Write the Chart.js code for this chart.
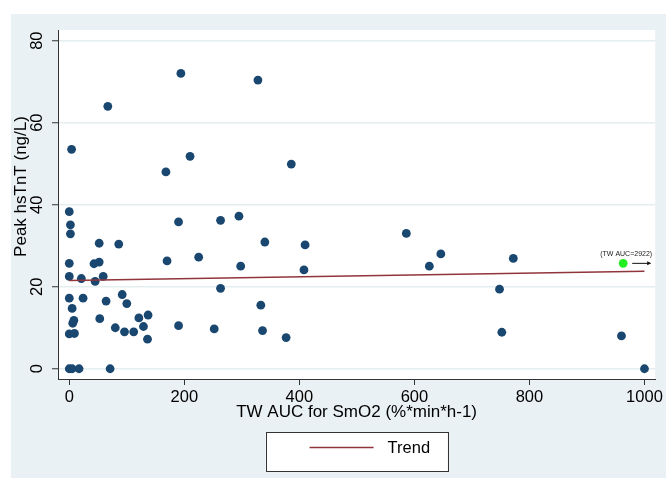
<!DOCTYPE html>
<html><head><meta charset="utf-8">
<script src="https://cdn.jsdelivr.net/npm/chart.js@4.4.1/dist/chart.umd.min.js"></script>
<style>html,body{margin:0;padding:0;background:#fff;}canvas{display:block;}</style>
</head><body>
<canvas id="c" width="666" height="478"></canvas>
<script>
// TW AUC for SmO2 (x) and Peak hsTnT (y)
const aucValues = [194,328,67,4,210,168,386,0,2,2,52,86,190,263,295,340,410,586,0,43,52,170,225,298,408,626,646,772,0,21,45,59,263,748,0,24,5,64,92,100,333,8,6,53,121,137,0,9,80,129,96,112,136,190,252,336,377,752,960,0,5,17,71,1000];
const hstntValues = [72.0,70.4,64.0,53.5,51.8,48.0,49.9,38.3,35.1,32.9,30.6,30.4,35.8,36.2,37.2,30.9,30.2,33.0,25.7,25.6,26.0,26.3,27.2,25.0,24.1,25.0,28.0,26.9,22.5,22.0,21.3,22.5,19.6,19.4,17.2,17.2,14.7,16.5,18.1,15.9,15.5,11.8,11.1,12.2,12.4,13.1,8.5,8.6,10.0,10.3,9.0,9.0,7.2,10.5,9.7,9.3,7.6,8.9,8.0,0,0,0,0,0];
const outlierAuc = [963];
const outlierHstnt = [25.7];
const outlierLabels = ['(TW AUC=2922)'];
const trendAuc = [0, 1000];
const trendHstnt = [21.5, 23.8];
const xTickValues = [0, 200, 400, 600, 800, 1000];
const yTickValues = [0, 20, 40, 60, 80];
const xTitle = 'TW AUC for SmO2 (%*min*h-1)';
const yTitle = 'Peak hsTnT (ng/L)';
const trendLabel = 'Trend';

const BG = '#eaf1f4';
const NAVY = '#1a476f';
const MAROON = '#90353b';
const FONT = '"Liberation Sans", Arial, Helvetica, sans-serif';

const bgPlugin = {
  id: 'bg',
  beforeDraw(chart) {
    const ctx = chart.ctx, a = chart.chartArea;
    ctx.save();
    ctx.fillStyle = '#fff';
    ctx.fillRect(0, 0, chart.width, chart.height);
    ctx.fillStyle = BG;
    ctx.fillRect(11, 14, chart.width - 11, chart.height - 14);
    ctx.fillStyle = '#fff';
    ctx.fillRect(a.left, a.top, a.right - a.left, a.bottom - a.top);
    ctx.restore();
  }
};

const extrasPlugin = {
  id: 'extras',
  afterDraw(chart) {
    const ctx = chart.ctx, a = chart.chartArea;
    const xs = chart.scales.x, ys = chart.scales.y;
    ctx.save();
    // outlier annotation
    outlierAuc.forEach((v, i) => {
      const px = xs.getPixelForValue(v), py = ys.getPixelForValue(outlierHstnt[i]);
      ctx.fillStyle = '#222';
      ctx.font = '7px ' + FONT;
      ctx.textAlign = 'center';
      ctx.textBaseline = 'middle';
      ctx.fillText(outlierLabels[i], px + 3, py - 9);
      ctx.strokeStyle = '#111';
      ctx.lineWidth = 1;
      ctx.beginPath();
      ctx.moveTo(px + 9, py);
      ctx.lineTo(px + 27, py);
      ctx.stroke();
      ctx.fillStyle = '#111';
      ctx.beginPath();
      ctx.moveTo(px + 28, py);
      ctx.lineTo(px + 24, py - 2);
      ctx.lineTo(px + 24, py + 2);
      ctx.closePath();
      ctx.fill();
    });
    // y axis title
    ctx.save();
    ctx.translate(21, (a.top + a.bottom) / 2 - 18);
    ctx.rotate(-Math.PI / 2);
    ctx.fillStyle = '#000';
    ctx.font = '17px ' + FONT;
    ctx.textAlign = 'center';
    ctx.textBaseline = 'middle';
    ctx.fillText(yTitle, 0, 0);
    ctx.restore();
    // legend
    const cx = (a.left + a.right) / 2;
    const bw = 182, bh = 39;
    const bx = cx - bw / 2, by = 432.5;
    ctx.fillStyle = '#fff';
    ctx.fillRect(bx, by, bw, bh);
    ctx.strokeStyle = '#333';
    ctx.lineWidth = 1;
    ctx.strokeRect(Math.round(bx) + 0.5, by, bw, bh);
    const ds = chart.data.datasets[0];
    ctx.strokeStyle = ds.borderColor;
    ctx.lineWidth = 1.5;
    ctx.beginPath();
    ctx.moveTo(bx + 44, by + 15);
    ctx.lineTo(bx + 108, by + 15);
    ctx.stroke();
    ctx.fillStyle = '#000';
    ctx.font = '16.5px ' + FONT;
    ctx.textAlign = 'left';
    ctx.textBaseline = 'middle';
    ctx.fillText(ds.label, bx + 122, by + 16);
    ctx.restore();
  }
};

const mainData = aucValues.map((x, i) => ({x, y: hstntValues[i]}));
const outData = outlierAuc.map((x, i) => ({x, y: outlierHstnt[i]}));
const trendData = trendAuc.map((x, i) => ({x, y: trendHstnt[i]}));

new Chart(document.getElementById('c'), {
  type: 'scatter',
  data: {
    datasets: [
      {type: 'line', label: trendLabel, data: trendData, borderColor: MAROON, borderWidth: 1.5, pointRadius: 0, fill: false, tension: 0},
      {label: 'Outlier', data: outData, backgroundColor: '#22ee22', borderWidth: 0, pointRadius: 4.4},
      {label: 'Peak hsTnT', data: mainData, backgroundColor: NAVY, borderColor: NAVY, borderWidth: 0, pointRadius: 4.4}
    ]
  },
  options: {
    responsive: false,
    animation: false,
    devicePixelRatio: 1,
    layout: {padding: {left: 18, top: 30, right: 10, bottom: 55}},
    plugins: {legend: {display: false}, tooltip: {enabled: false}},
    scales: {
      x: {
        type: 'linear', min: -19.6, max: 1018.6,
        afterBuildTicks(s) { s.ticks = xTickValues.map(v => ({value: v})); },
        afterFit(s) { s.height = 44; },
        grid: {drawOnChartArea: false, drawTicks: true, tickLength: 6, tickColor: '#333', tickWidth: 1},
        border: {display: true, color: '#333', width: 1},
        ticks: {color: '#000', font: {family: FONT, size: 16.5}, padding: 3, maxRotation: 0, autoSkip: false, callback: v => String(v)},
        title: {display: true, text: xTitle, color: '#000', font: {family: FONT, size: 17}, padding: 0}
      },
      y: {
        type: 'linear', min: -2.5, max: 82.6,
        afterBuildTicks(s) { s.ticks = yTickValues.map(v => ({value: v})); },
        afterFit(s) { s.width = 40; },
        grid: {color: '#e4edf0', lineWidth: 1.5, drawTicks: true, tickLength: 6, tickColor: '#333', tickWidth: 1},
        border: {display: true, color: '#333', width: 1},
        ticks: {color: '#000', font: {family: FONT, size: 16.5}, padding: 5, minRotation: 90, maxRotation: 90, crossAlign: 'center', autoSkip: false, callback: v => String(v)}
      }
    }
  },
  plugins: [bgPlugin, extrasPlugin]
});
</script>
</body></html>
